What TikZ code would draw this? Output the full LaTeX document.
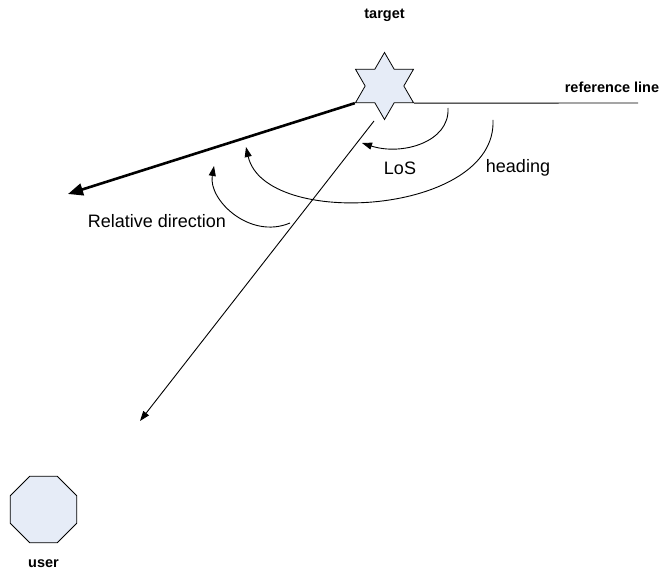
\documentclass[tikz,border=0pt]{standalone}
\usepackage{fontspec}
\setmainfont{Liberation Sans}
\usetikzlibrary{positioning,shapes.geometric,arrows.meta}
\definecolor{shapefill}{RGB}{230,236,247}

\begin{document}
\begin{tikzpicture}[x=1pt,y=-1pt,
            starnode/.style={star, star points=6, star point ratio=1.732, minimum size=67pt, inner sep=0pt, draw, fill=shapefill, line width=0.8pt},
            octnode/.style={regular polygon, regular polygon sides=8, minimum size=72pt, inner sep=0pt, draw, fill=shapefill, line width=0.8pt},
            boldlabel/.style={font=\fontsize{14.5}{17}\selectfont\bfseries, inner sep=0pt},
            plainlabel/.style={font=\fontsize{18}{21}\selectfont, inner sep=0pt},
            anglearc/.style={line width=0.9pt, -{Triangle[length=10pt,width=7pt]}},
            ]
            \useasboundingbox (0,0) rectangle (662,577);

            %Nodes
            \node[starnode]   (target)      at (384.5,86)   {};
            \node[octnode]    (user)        at (43.5,509.5) {};
            \node[boldlabel]  (targetlabel) [above=30pt of target] {target};
            \node[boldlabel]  (userlabel)   [below=16pt of user]   {user};
            \node[boldlabel]  (reflabel)    at (612,87)     {reference line};
            \node[plainlabel] (loslabel)    at (400,168)    {LoS};
            \node[plainlabel] (headlabel)   at (518,168)    {heading};
            \node[plainlabel] (rellabel)    at (157,221)    {Relative direction};

            %Coordinates
            \coordinate (refend)   at (638,103);
            \coordinate (dirend)   at (68,194);
            \coordinate (losstart) at (374,121);
            \coordinate (losend)   at (140,421);

            %Lines
            \draw[line width=0.9pt] (target.outer point 5) -- (refend);
            \draw[line width=2.6pt, -{Triangle[length=15pt,width=12pt]}] (target.outer point 3) -- (dirend);
            \draw[line width=0.9pt, -{Triangle[length=10pt,width=7pt]}] (losstart) -- (losend);

            %Arcs
            \draw[anglearc] (448,108) .. controls (450,142) and (402,156) .. (362,143);
            \draw[anglearc] (493,120) .. controls (497,215) and (265,230) .. (246,147);
            \draw[anglearc] (290,223) .. controls (250,240) and (208,200) .. (214,166);

\end{tikzpicture}
\end{document}
